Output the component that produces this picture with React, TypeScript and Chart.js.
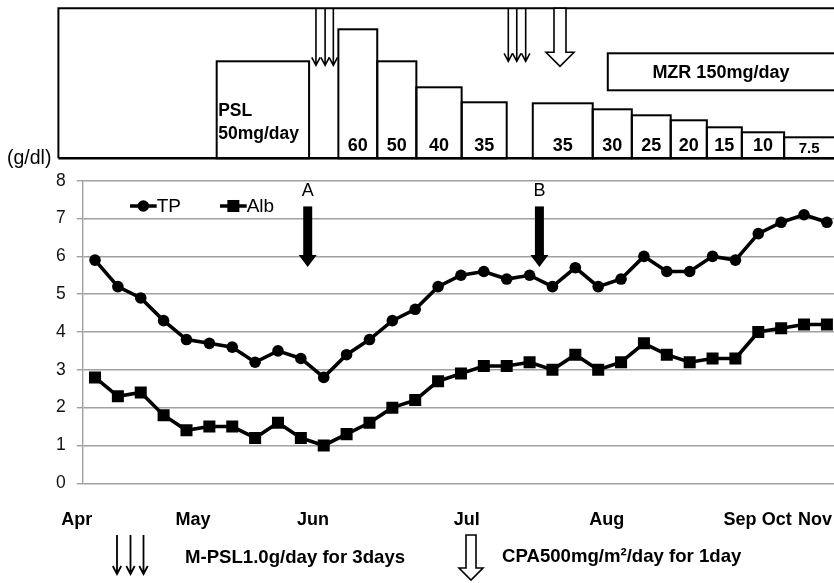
import React, { useEffect, useRef } from 'react';
import { Chart, registerables } from 'chart.js';

Chart.register(...registerables);

const FONT = '"Liberation Sans", Arial, Helvetica, sans-serif';

// ---- data (index = sample number) ----
const tpValues = [5.9, 5.2, 4.9, 4.3, 3.8, 3.7, 3.6, 3.2, 3.5, 3.3, 2.8, 3.4, 3.8, 4.3, 4.6, 5.2, 5.5, 5.6, 5.4, 5.5, 5.2, 5.7, 5.2, 5.4, 6.0, 5.6, 5.6, 6.0, 5.9, 6.6, 6.9, 7.1, 6.9];
const albValues = [2.8, 2.3, 2.4, 1.8, 1.4, 1.5, 1.5, 1.2, 1.6, 1.2, 1.0, 1.3, 1.6, 2.0, 2.2, 2.7, 2.9, 3.1, 3.1, 3.2, 3.0, 3.4, 3.0, 3.2, 3.7, 3.4, 3.2, 3.3, 3.3, 4.0, 4.1, 4.2, 4.2];

// month tick labels and their positions on the sample axis
const monthLabels = ['Apr', 'May', 'Jun', 'Jul', 'Aug', 'Sep', 'Oct', 'Nov'];
const monthPositions = [-0.8, 4.29, 9.53, 16.25, 22.37, 28.2, 29.81, 31.48];

// PSL dose schedule (top panel): start / end on the sample axis, box level, label
const doseLabels = ['PSL\n50mg/day', '60', '50', '40', '35', '35', '30', '25', '20', '15', '10', '7.5'];
const doseStart = [5.32, 10.64, 12.34, 14.05, 16.03, 19.14, 21.76, 23.47, 25.17, 26.75, 28.28, 30.13];
const doseEnd = [9.36, 12.34, 14.05, 16.03, 18.0, 21.76, 23.47, 25.17, 26.75, 28.28, 30.13, 33.5];
const doseLevel = [97, 129, 97, 71, 56, 55, 49, 43, 38, 31, 26, 21];

// MZR period
const mzrLabel = 'MZR 150mg/day';
const mzrStart = 22.42;
const mzrEnd = 33.5;
const mzrLevels = [68, 105];

// M-PSL pulses (thin arrows) and CPA (hollow arrow)
const mpslTimes = [9.66, 10.06, 10.42, 18.07, 18.44, 18.83];
const mpslTipLevel = [93, 93, 93, 97, 97, 97];
const cpaTimes = [20.33];
const cpaTipLevel = [92];

// annotations A / B
const annotLabels = ['A', 'B'];
const annotTimes = [9.3, 19.43];
const annotArrowTop = 7.32;
const annotArrowTip = 5.72;
const annotTextY = 7.72;

const seriesNames = ['TP', 'Alb'];

function thinArrow(ctx: CanvasRenderingContext2D, x: number, y0: number, y1: number) {
  ctx.beginPath();
  ctx.moveTo(x, y0);
  ctx.lineTo(x, y1);
  ctx.moveTo(x - 4.2, y1 - 8);
  ctx.lineTo(x, y1);
  ctx.lineTo(x + 4.2, y1 - 8);
  ctx.stroke();
}

function hollowArrow(ctx: CanvasRenderingContext2D, cx: number, y0: number, yTip: number, sw: number, hw: number, hh: number) {
  const yh = yTip - hh;
  ctx.beginPath();
  ctx.moveTo(cx - sw / 2, y0);
  ctx.lineTo(cx - sw / 2, yh);
  ctx.lineTo(cx - hw / 2, yh);
  ctx.lineTo(cx, yTip);
  ctx.lineTo(cx + hw / 2, yh);
  ctx.lineTo(cx + sw / 2, yh);
  ctx.lineTo(cx + sw / 2, y0);
  ctx.closePath();
  ctx.fillStyle = '#fff';
  ctx.fill();
  ctx.stroke();
}

const overlayPlugin = {
  id: 'overlay',
  afterDraw(chart: any) {
    const ctx: CanvasRenderingContext2D = chart.ctx;
    const xs = chart.scales.x;
    const ys = chart.scales.y;
    const X = (v: number) => xs.getPixelForValue(v);
    const Y = (v: number) => ys.getPixelForValue(v);
    const panelTop = 8.3;
    const panelBottom = 158.3;
    const panelLeft = X(-1.6);
    const right = chart.width + 5;
    const L = (lvl: number) => panelBottom - lvl;

    ctx.save();
    ctx.strokeStyle = '#000';
    ctx.fillStyle = '#000';
    ctx.lineJoin = 'miter';

    // dose boxes
    ctx.lineWidth = 2;
    for (let i = 0; i < doseLabels.length; i++) {
      const x0 = X(doseStart[i]);
      const x1 = Math.min(X(doseEnd[i]), right);
      ctx.strokeRect(x0, L(doseLevel[i]), x1 - x0, panelBottom - L(doseLevel[i]));
    }
    // MZR box
    {
      const x0 = X(mzrStart);
      const x1 = Math.min(X(mzrEnd), right);
      ctx.strokeRect(x0, L(mzrLevels[1]), x1 - x0, mzrLevels[1] - mzrLevels[0]);
      ctx.font = `bold 18px ${FONT}`;
      ctx.textAlign = 'center';
      ctx.textBaseline = 'middle';
      ctx.fillText(mzrLabel, (x0 + chart.width) / 2, (L(mzrLevels[1]) + L(mzrLevels[0])) / 2 + 1);
    }
    // outer frame
    ctx.lineWidth = 2;
    ctx.beginPath();
    ctx.moveTo(right, panelTop);
    ctx.lineTo(panelLeft, panelTop);
    ctx.lineTo(panelLeft, panelBottom);
    ctx.stroke();
    ctx.lineWidth = 2.6;
    ctx.beginPath();
    ctx.moveTo(panelLeft, panelBottom);
    ctx.lineTo(right, panelBottom);
    ctx.stroke();

    // dose labels
    ctx.textBaseline = 'middle';
    for (let i = 0; i < doseLabels.length; i++) {
      const x0 = X(doseStart[i]);
      const x1 = Math.min(X(doseEnd[i]), chart.width);
      const parts = doseLabels[i].split('\n');
      if (parts.length > 1) {
        ctx.font = `bold 17.5px ${FONT}`;
        ctx.textAlign = 'left';
        ctx.fillText(parts[0], x0 + 1.5, 111);
        ctx.fillText(parts[1], x0 + 1.5, 134);
      } else {
        const small = doseLabels[i].includes('.');
        ctx.font = small ? `bold 15px ${FONT}` : `bold 18px ${FONT}`;
        ctx.textAlign = 'center';
        ctx.fillText(doseLabels[i], (x0 + x1) / 2, small ? 149 : 146.5);
      }
    }

    // M-PSL thin arrows
    ctx.lineWidth = 1.6;
    for (let i = 0; i < mpslTimes.length; i++) {
      thinArrow(ctx, X(mpslTimes[i]), panelTop, L(mpslTipLevel[i]));
    }
    // CPA hollow arrow
    ctx.lineWidth = 1.6;
    for (let i = 0; i < cpaTimes.length; i++) {
      hollowArrow(ctx, X(cpaTimes[i]), panelTop, L(cpaTipLevel[i]), 12, 28, 14);
    }

    // unit label
    ctx.fillStyle = '#000';
    ctx.font = `19.5px ${FONT}`;
    ctx.textAlign = 'left';
    ctx.textBaseline = 'middle';
    ctx.fillText('(g/dl)', 7, 159);

    // A / B annotation arrows
    for (let i = 0; i < annotLabels.length; i++) {
      const x = X(annotTimes[i]);
      const yTop = Y(annotArrowTop);
      const yTip = Y(annotArrowTip);
      const hh = 12;
      ctx.fillRect(x - 4.5, yTop, 9, yTip - hh - yTop + 0.5);
      ctx.beginPath();
      ctx.moveTo(x - 9, yTip - hh);
      ctx.lineTo(x + 9, yTip - hh);
      ctx.lineTo(x, yTip);
      ctx.closePath();
      ctx.fill();
      ctx.font = `18px ${FONT}`;
      ctx.textAlign = 'center';
      ctx.fillText(annotLabels[i], x, Y(annotTextY));
    }

    // inside legend
    const ly = 206;
    const legendItems = [
      { x0: 130, x1: 156.7, style: 'circle', r: 5.8 },
      { x0: 220, x1: 246.7, style: 'rect', r: 8.5 },
    ];
    ctx.font = `19px ${FONT}`;
    ctx.textAlign = 'left';
    legendItems.forEach((it, i) => {
      ctx.lineWidth = 3.5;
      ctx.beginPath();
      ctx.moveTo(it.x0, ly);
      ctx.lineTo(it.x1, ly);
      ctx.stroke();
      const cx = (it.x0 + it.x1) / 2;
      if (it.style === 'circle') {
        ctx.beginPath();
        ctx.arc(cx, ly, it.r, 0, Math.PI * 2);
        ctx.fill();
      } else {
        const s = it.r * Math.SQRT1_2;
        ctx.fillRect(cx - s, ly - s, 2 * s, 2 * s);
      }
      ctx.fillText(seriesNames[i], it.x1, ly + 1);
    });

    // bottom legend
    ctx.lineWidth = 1.8;
    [117, 130.5, 143.5].forEach((x) => thinArrow(ctx, x, 535, 574));
    ctx.font = `bold 18.6px ${FONT}`;
    ctx.textAlign = 'left';
    ctx.fillStyle = '#000';
    ctx.fillText('M-PSL1.0g/day for 3days', 185, 557.5);
    ctx.lineWidth = 1.6;
    hollowArrow(ctx, 471, 535, 580, 10, 24, 12);
    ctx.fillStyle = '#000';
    ctx.fillText('CPA500mg/m\u00B2/day for 1day', 502, 557);

    ctx.restore();
  },
};

export default function App() {
  const ref = useRef<HTMLCanvasElement>(null);
  useEffect(() => {
    document.body.style.margin = '0';
    const canvas = ref.current!;
    const chart = new Chart(canvas, {
      type: 'line',
      data: {
        datasets: [
          {
            label: seriesNames[0],
            data: tpValues.map((v, i) => ({ x: i, y: v })),
            borderColor: '#000',
            backgroundColor: '#000',
            borderWidth: 3.6,
            pointStyle: 'circle',
            pointRadius: 5.8,
            pointBorderWidth: 0,
            pointBackgroundColor: '#000',
            tension: 0,
          },
          {
            label: seriesNames[1],
            data: albValues.map((v, i) => ({ x: i, y: v })),
            borderColor: '#000',
            backgroundColor: '#000',
            borderWidth: 3.6,
            pointStyle: 'rect',
            pointRadius: 8.5,
            pointBorderWidth: 0,
            pointBackgroundColor: '#000',
            tension: 0,
          },
        ],
      },
      options: {
        responsive: false,
        animation: false,
        devicePixelRatio: 1,
        layout: { autoPadding: false, padding: { top: 180.7, left: 0, right: 0, bottom: 0 } },
        plugins: { legend: { display: false }, tooltip: { enabled: false } },
        events: [],
        scales: {
          x: {
            type: 'linear',
            min: -0.538,
            max: 32.31,
            grid: { display: false, drawTicks: false },
            border: { display: false },
            afterBuildTicks: (scale: any) => {
              scale.ticks = monthPositions.map((v) => ({ value: v }));
            },
            afterFit: (scale: any) => {
              scale.height = 99.7;
              scale.paddingLeft = 0;
              scale.paddingRight = 0;
            },
            ticks: {
              autoSkip: false,
              maxRotation: 0,
              minRotation: 0,
              padding: 26,
              color: '#000',
              font: { family: FONT, size: 18, weight: 'bold' },
              callback: (_v: any, i: number) => monthLabels[i],
            },
          },
          y: {
            min: 0,
            max: 8,
            ticks: {
              stepSize: 1,
              padding: 11,
              color: '#111',
              font: { family: FONT, size: 17.5 },
            },
            grid: { color: '#a0a0a0', lineWidth: 1.4, tickLength: 6 },
            border: { display: true, color: '#a0a0a0', width: 1.4 },
            afterFit: (scale: any) => {
              scale.width = 82.7;
              scale.paddingTop = 0;
              scale.paddingBottom = 0;
            },
          },
        },
      },
      plugins: [overlayPlugin],
    } as any);
    return () => chart.destroy();
  }, []);
  return (
    <div style={{ width: 834, height: 583, position: 'relative' }}>
      <canvas ref={ref} width={834} height={583} style={{ display: 'block' }} />
    </div>
  );
}
